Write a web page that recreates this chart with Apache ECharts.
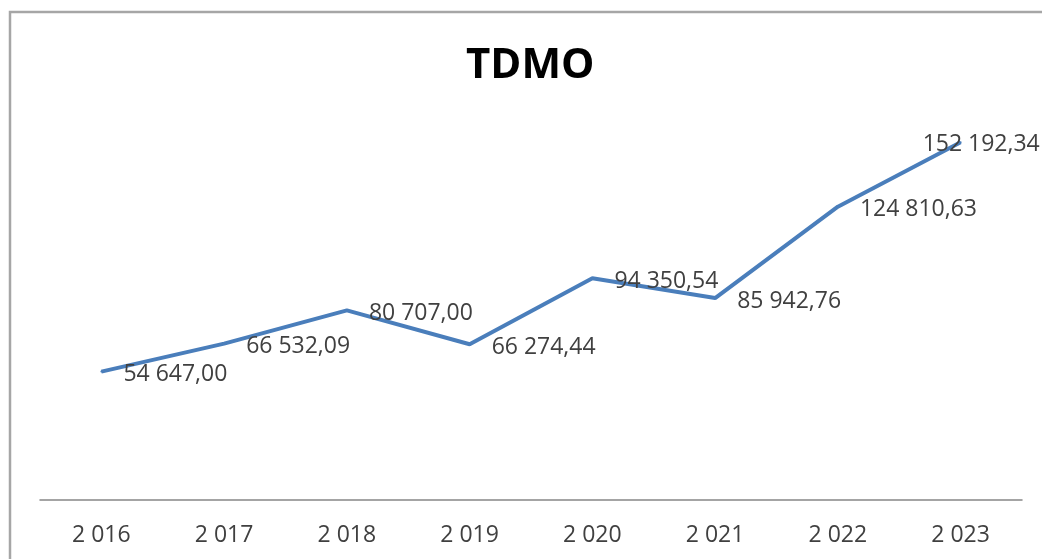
<!DOCTYPE html>
<html>
<head>
<meta charset="utf-8">
<script src="https://cdn.jsdelivr.net/npm/echarts@6/dist/echarts.min.js"></script>
<style>html,body{margin:0;padding:0;background:#fff}#c{width:1042px;height:559px}</style>
</head>
<body>
<div id="c"></div>
<script>
const categories = ["2 016", "2 017", "2 018", "2 019", "2 020", "2 021", "2 022", "2 023"];
const values = [54647.00, 66532.09, 80707.00, 66274.44, 94350.54, 85942.76, 124810.63, 152192.34];
const title = "TDMO";

function fmt(v) {
  const parts = v.toFixed(2).split('.');
  const intPart = parts[0].replace(/\B(?=(\d{3})+(?!\d))/g, ' ');
  return intPart + ',' + parts[1];
}

const data = values.map((v, i) => {
  const item = { value: v };
  if (i === values.length - 1) {
    item.label = { offset: [-60, 2] };
  }
  return item;
});

const chart = echarts.init(document.getElementById('c'), null, { renderer: 'canvas' });
chart.setOption({
  backgroundColor: '#ffffff',
  animation: false,
  title: {
    text: title,
    left: 461,
    top: 36,
    textStyle: { fontFamily: 'Open Sans', fontWeight: 'bold', fontSize: 42, color: '#000', lineHeight: 50 }
  },
  grid: { left: 40, right: 20, top: 124, bottom: 59, containLabel: false },
  xAxis: {
    type: 'category',
    data: categories,
    boundaryGap: true,
    axisLine: { show: true, lineStyle: { color: '#868686', width: 1.5 } },
    axisTick: { show: false },
    axisLabel: { color: '#404040', fontFamily: 'Open Sans', fontSize: 23, margin: 24 }
  },
  yAxis: {
    type: 'value',
    min: 0,
    max: 160000,
    show: false,
    splitLine: { show: false }
  },
  series: [{
    type: 'line',
    data: data,
    symbol: 'circle',
    symbolSize: 2,
    showSymbol: true,
    lineStyle: { color: '#4a7ebb', width: 4 },
    itemStyle: { color: '#4a7ebb' },
    label: {
      show: true,
      position: 'right',
      distance: 21,
      offset: [0, 3],
      color: '#404040',
      fontFamily: 'Open Sans',
      fontSize: 23,
      formatter: p => fmt(p.value)
    },
    z: 2
  }],
  graphic: [{
    type: 'rect',
    shape: { x: 10, y: 12, width: 1100, height: 600 },
    style: { fill: 'none', stroke: '#a6a6a6', lineWidth: 2.5 },
    silent: true
  }]
});
</script>
</body>
</html>
